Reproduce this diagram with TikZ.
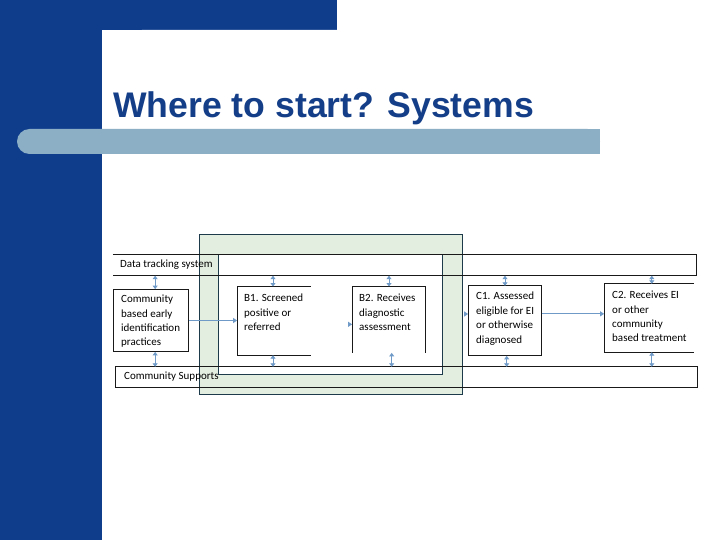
\documentclass[tikz,border=0pt]{standalone}
\usepackage{fontspec}
\setmainfont{Carlito}
\newfontfamily\titlefont{Liberation Sans}
\usetikzlibrary{arrows.meta,calc,fit}
\definecolor{navy}{HTML}{0F3D8C}
\definecolor{titleblue}{HTML}{143F88}
\definecolor{barblue}{HTML}{8DAFC5}
\definecolor{greenfill}{HTML}{E4EEE0}
\definecolor{framecol}{HTML}{1C3A4A}
\definecolor{arrowblue}{HTML}{6F9AC8}
\begin{document}
\begin{tikzpicture}[x=1pt,y=-1pt,
  boxline/.style={draw=black!90,line width=0.9pt},
  area/.style={inner sep=0pt},
  txt/.style={font=\fontsize{11}{14.4}\selectfont, align=left, anchor=north west, inner sep=0pt, text=black},
  conn/.style={draw=arrowblue, line width=0.9pt, -{Triangle[length=4pt,width=5pt]}},
  dbl/.style={draw=arrowblue, line width=0.9pt, {Triangle[length=3.5pt,width=5pt]}-{Triangle[length=3.5pt,width=5pt]}}]
\useasboundingbox (0,0) rectangle (720,540);
% background
\fill[white] (0,0) rectangle (720,540);
\fill[navy] (0,0) rectangle (337,30);
\fill[navy] (0,0) rectangle (102,540);
\fill[white, rounded corners=40pt] (102,600) -- (102,30) -- (800,30) -- (800,600) -- cycle;
\fill[barblue, rounded corners=12.5pt] (17,129) rectangle (600,154);
\fill[barblue] (560,129) rectangle (600,154);
\node[anchor=base west, inner sep=0pt, text=titleblue, font=\titlefont\bfseries\fontsize{35.6}{40}\selectfont] (title) at (113,118) {Where to start? Systems};
% green frame
\fill[greenfill] (199,234) rectangle (462,394);
\fill[white] (218,254) rectangle (442,374);
\draw[framecol, line width=0.9pt] (199,234) rectangle (462,394);
\draw[framecol, line width=0.9pt] (218,254) rectangle (442,374);
% corner coordinates
\coordinate (dts1) at (113,254.5); \coordinate (dts2) at (696,275.5);
\coordinate (cs1) at (116,367);    \coordinate (cs2) at (697,387);
\coordinate (a1) at (114,289.3);   \coordinate (a2) at (188.3,351.7);
\coordinate (b11) at (237.3,286.7); \coordinate (b12) at (310.7,355);
\coordinate (b21) at (352.3,286.7); \coordinate (b22) at (425.7,352.7);
\coordinate (c11) at (468.3,286);  \coordinate (c12) at (541.7,355.7);
\coordinate (c21) at (604.3,284);  \coordinate (c22) at (693.3,352);
% system bands
\node[area, fit=(dts1)(dts2)] (dts) {};
\draw[boxline] (dts.north west) -- (dts.north east) -- (dts.south east) -- (dts.south west);
\node[txt, anchor=west] (dtst) at (120,265) {Data tracking system};
\node[area, fit=(cs1)(cs2)] (cs) {};
\draw[boxline] (cs.north west) rectangle (cs.south east);
\node[txt, anchor=west] (cst) at (124,377) {Community Supports};
% boxes
\node[area, fit=(a1)(a2)] (a) {};
\draw[boxline] (a.north west) rectangle (a.south east);
\node[txt] (at) at (121,295) {Community\\based early\\identification\\practices};
\node[area, fit=(b11)(b12)] (b1) {};
\draw[boxline] (b1.north east) -- (b1.north west) -- (b1.south west) -- (b1.south east);
\node[txt] (b1t) at (244,294) {B1. Screened\\positive or\\referred};
\node[area, fit=(b21)(b22)] (b2) {};
\draw[boxline] (b2.south west) -- (b2.north west) -- (b2.north east) -- (b2.south east);
\node[txt] (b2t) at (359,294) {B2. Receives\\diagnostic\\assessment};
\node[area, fit=(c11)(c12)] (c1) {};
\draw[boxline] (c1.north west) rectangle (c1.south east);
\node[txt] (c1t) at (476,292) {C1. Assessed\\eligible for EI\\or otherwise\\diagnosed};
\node[area, fit=(c21)(c22)] (c2) {};
\draw[boxline] (c2.north east) -- (c2.north west) -- (c2.south west) -- (c2.south east);
\node[txt] (c2t) at (612,291) {C2. Receives EI\\or other\\community\\based treatment};
% connector start points
\coordinate (pb1) at ($(b1.east)+(0,3.5)$);
\coordinate (pb2) at ($(b2.east)+(0,-5.7)$);
\coordinate (pc1) at ($(c1.east)+(0,-7)$);
\coordinate (an) at ($(a.north)+(4,0)$);
\coordinate (as) at ($(a.south)+(4,0)$);
\coordinate (b1n) at ($(b1.north)+(-1,0)$);
\coordinate (b1s) at ($(b1.south)+(-1,0)$);
\coordinate (b2s) at ($(b2.south)+(2.7,0)$);
\coordinate (c1s) at ($(c1.south)+(1.7,0)$);
\coordinate (c2n) at ($(c2.north)+(3,0)$);
\coordinate (c2s) at ($(c2.south)+(3,0)$);
% horizontal connectors
\draw[conn] (a.east) -- (a.east -| b1.west);
\draw[conn, shorten <=37.2pt] (pb1) -- (pb1 -| b2.west);
\draw[conn, shorten <=38.4pt] (pb2) -- (pb2 -| c1.west);
\draw[conn] (pc1) -- (pc1 -| c2.west);
% vertical double arrows
\draw[dbl] (an) -- (an |- dts.south);
\draw[dbl] (as) -- (as |- cs.north);
\draw[dbl] (b1n) -- (b1n |- dts.south);
\draw[dbl] (b1s) -- (b1s |- cs.north);
\draw[dbl] (b2.north) -- (b2.north |- dts.south);
\draw[dbl] (b2s) -- (b2s |- cs.north);
\draw[dbl] (c1.north) -- (c1.north |- dts.south);
\draw[dbl] (c1s) -- (c1s |- cs.north);
\draw[dbl] (c2n) -- (c2n |- dts.south);
\draw[dbl] (c2s) -- (c2s |- cs.north);
\end{tikzpicture}
\end{document}
